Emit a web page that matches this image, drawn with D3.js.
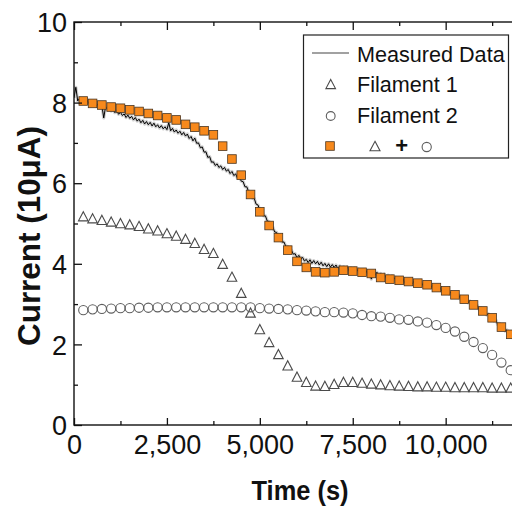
<!DOCTYPE html>
<html>
<head>
<meta charset="utf-8">
<script src="https://cdn.jsdelivr.net/npm/d3@7"></script>
<style>
  html, body { margin: 0; padding: 0; background: #fff; }
  svg { display: block; }
  text { font-family: "Liberation Sans", Arial, Helvetica, sans-serif; fill: #111; }
</style>
</head>
<body>
<script>
// Measured current trace, sampled every 50 s starting at t = 0 (units of 10 uA)
const measuredStep = 50;
const measured = [
  8.12, 8.38, 8.04, 8.11, 8.03,  8.08, 8.01, 8.06, 7.98, 8.03,
  7.95, 8.00, 7.91, 7.97, 7.88,  7.93, 7.62, 7.90, 7.83, 7.87,
  7.79, 7.84, 7.75, 7.80, 7.71,  7.76, 7.68, 7.72, 7.63, 7.69,
  7.61, 7.66, 7.57, 7.63, 7.54,  7.59, 7.50, 7.56, 7.47, 7.53,
  7.45, 7.51, 7.42, 7.49, 7.40,  7.45, 7.37, 7.43, 7.35, 7.40,
  7.33, 7.50, 7.30, 7.36, 7.27,  7.32, 7.24, 7.29, 7.20, 7.26,
  7.17, 7.22, 7.11, 7.16, 7.05,  7.12, 6.99, 7.00, 6.88, 6.90,
  6.77, 6.78, 6.64, 6.66, 6.52,  6.53, 6.44, 6.48, 6.39, 6.43,
  6.34, 6.39, 6.30, 6.34, 6.24,  6.29, 6.19, 6.23, 6.12, 6.15,
  6.05, 6.04, 5.91, 5.91, 5.78,  5.77, 5.63, 5.62, 5.48, 5.46,
  5.33, 5.32, 5.19, 5.19, 5.06,  5.05, 4.92, 4.91, 4.79, 4.78,
  4.65, 4.65, 4.54, 4.54, 4.43,  4.43, 4.33, 4.34, 4.24, 4.25,
  4.15, 4.21, 4.11, 4.16, 4.07,  4.11, 4.03, 4.10, 4.01, 4.08,
  4.00, 4.06, 3.97, 4.04, 3.95,  4.01, 3.93, 4.00, 3.92, 3.98,
  3.91, 3.97, 3.88, 3.95, 3.87,  3.93, 3.85, 3.92, 3.83, 3.90,
  3.83, 3.89, 3.80, 3.87, 3.79,  3.85, 3.77, 3.84, 3.75, 3.82,
  3.62, 3.81, 3.72, 3.79, 3.70,  3.76, 3.68, 3.74, 3.65, 3.72,
  3.64, 3.70, 3.61, 3.67, 3.58,  3.64, 3.56, 3.62, 3.53, 3.60,
  3.53, 3.59, 3.50, 3.57, 3.49,  3.55, 3.47, 3.53, 3.45, 3.51,
  3.44, 3.50, 3.41, 3.47, 3.38,  3.44, 3.35, 3.41, 3.32, 3.38,
  3.30, 3.35, 3.25, 3.31, 3.21,  3.26, 3.17, 3.23, 3.12, 3.18,
  3.09, 3.13, 3.03, 3.08, 2.98,  3.02, 2.92, 2.97, 2.86, 2.91,
  2.81, 2.84, 2.73, 2.76, 2.66,  2.69, 2.58, 2.61, 2.49, 2.52,
  2.41, 2.44, 2.33, 2.36, 2.25,  2.27, 2.17, 2.20, 2.09, 2.12,
  2.05
];

// Model times (s) for the fitted filament currents
const modelTimes = [
   250,  500,  750, 1000, 1250, 1500, 1750, 2000, 2250, 2500,
  2750, 3000, 3250, 3500, 3750, 4000, 4250, 4500, 4750, 5000,
  5250, 5500, 5750, 6000, 6250, 6500, 6750, 7000, 7250, 7500,
  7750, 8000, 8250, 8500, 8750, 9000, 9250, 9500, 9750, 10000,
  10250, 10500, 10750, 11000, 11250, 11500, 11750
];

// Filament 1 (triangles)
const filament1 = [
  5.18, 5.13, 5.09, 5.05, 5.01, 4.98, 4.94, 4.88, 4.83, 4.76,
  4.70, 4.62, 4.52, 4.37, 4.27, 4.00, 3.68, 3.28, 2.79, 2.38,
  2.06, 1.76, 1.48, 1.20, 1.07, 0.98, 0.97, 1.02, 1.07, 1.07,
  1.05, 1.03, 1.01, 0.99, 0.98, 0.97, 0.96, 0.96, 0.95, 0.95,
  0.94, 0.94, 0.94, 0.94, 0.93, 0.93, 0.93
];

// Filament 2 (circles)
const filament2 = [
  2.85, 2.87, 2.88, 2.89, 2.90, 2.90, 2.91, 2.91, 2.92, 2.92,
  2.92, 2.92, 2.92, 2.92, 2.92, 2.92, 2.92, 2.92, 2.92, 2.90,
  2.89, 2.88, 2.87, 2.85, 2.84, 2.82, 2.80, 2.80, 2.79, 2.77,
  2.73, 2.70, 2.69, 2.66, 2.62, 2.61, 2.57, 2.54, 2.48, 2.41,
  2.32, 2.19, 2.06, 1.91, 1.74, 1.55, 1.36
];

// Combined current of both filaments (squares)
const combined = [
  8.04, 7.98, 7.94, 7.89, 7.86, 7.82, 7.78, 7.73, 7.68, 7.62,
  7.57, 7.46, 7.39, 7.30, 7.20, 6.92, 6.60, 6.20, 5.72, 5.29,
  4.95, 4.65, 4.34, 4.06, 3.91, 3.80, 3.78, 3.80, 3.84, 3.82,
  3.79, 3.76, 3.66, 3.62, 3.59, 3.56, 3.52, 3.48, 3.41, 3.33,
  3.23, 3.12, 2.98, 2.83, 2.66, 2.43, 2.25
];

// Axis ticks
const xMajorTicks = [0, 2500, 5000, 7500, 10000];
const xMinorTicks = [1250, 3750, 6250, 8750, 11250];
const yMajorTicks = [0, 2, 4, 6, 8, 10];
const yMinorTicks = [1, 3, 5, 7, 9];

const legendLabels = ["Measured Data", "Filament 1", "Filament 2"];

// ---------------------------------------------------------------------------
const W = 512, H = 508;
const L = 74, R = 520, T = 22, B = 425;

const svg = d3.select("body").append("svg")
  .attr("width", W).attr("height", H);

const x = d3.scaleLinear().domain([0, 12000]).range([L, R]);
const y = d3.scaleLinear().domain([0, 10]).range([B, T]);

svg.append("defs").append("clipPath").attr("id", "plot")
  .append("rect").attr("x", L).attr("y", T).attr("width", R - L).attr("height", B - T);

const plot = svg.append("g").attr("clip-path", "url(#plot)");

// Measured trace: soft grey band under a thin black line
const line = d3.line()
  .x((d, i) => x(i * measuredStep))
  .y(d => y(d));
plot.append("path").datum(measured)
  .attr("d", line).attr("fill", "none")
  .attr("stroke", "#888").attr("stroke-width", 3.2).attr("stroke-opacity", 0.4)
  .attr("stroke-linejoin", "round");
plot.append("path").datum(measured)
  .attr("d", line).attr("fill", "none")
  .attr("stroke", "#000").attr("stroke-width", 1)
  .attr("stroke-linejoin", "round");

// Triangle centred on its bounding box
function triPath(w, h) {
  return `M0,${-h / 2}L${w / 2},${h / 2}L${-w / 2},${h / 2}Z`;
}

const triColor = "#4a4a4a", circColor = "#5e5e5e";
const sqFill = "#f7891c", sqStroke = "#4a3520";

plot.append("g").selectAll("path")
  .data(modelTimes.map((t, i) => [t, filament1[i]]))
  .join("path")
  .attr("d", triPath(9.6, 9.2))
  .attr("transform", d => `translate(${x(d[0])},${y(d[1])})`)
  .attr("fill", "none").attr("stroke", triColor).attr("stroke-width", 1.1);

plot.append("g").selectAll("circle")
  .data(modelTimes.map((t, i) => [t, filament2[i]]))
  .join("circle")
  .attr("cx", d => x(d[0])).attr("cy", d => y(d[1])).attr("r", 4.6)
  .attr("fill", "none").attr("stroke", circColor).attr("stroke-width", 1.1);

const sq = 8.6;
plot.append("g").selectAll("rect")
  .data(modelTimes.map((t, i) => [t, combined[i]]))
  .join("rect")
  .attr("x", d => x(d[0]) - sq / 2).attr("y", d => y(d[1]) - sq / 2)
  .attr("width", sq).attr("height", sq)
  .attr("fill", sqFill).attr("stroke", sqStroke).attr("stroke-width", 0.8);

// ---------------------------------------------------------------------------
// Axes: ticks point inward on all four sides
const fmt = d3.format(",");
const tickFont = "27px";

svg.append("g").attr("transform", `translate(0,${B})`)
  .call(d3.axisBottom(x).tickValues(xMajorTicks).tickFormat(fmt)
    .tickSizeInner(-7).tickSizeOuter(0).tickPadding(10));
svg.append("g").attr("transform", `translate(0,${B})`)
  .call(d3.axisBottom(x).tickValues(xMinorTicks).tickFormat("")
    .tickSizeInner(-4).tickSizeOuter(0));
svg.append("g").attr("transform", `translate(0,${T})`)
  .call(d3.axisTop(x).tickValues(xMajorTicks).tickFormat("")
    .tickSizeInner(-8).tickSizeOuter(0));
svg.append("g").attr("transform", `translate(0,${T})`)
  .call(d3.axisTop(x).tickValues(xMinorTicks).tickFormat("")
    .tickSizeInner(-4).tickSizeOuter(0));

const gy = svg.append("g").attr("transform", `translate(${L},0)`)
  .call(d3.axisLeft(y).tickValues(yMajorTicks).tickFormat(d3.format("d"))
    .tickSizeInner(-8).tickSizeOuter(0).tickPadding(7));
svg.append("g").attr("transform", `translate(${L},0)`)
  .call(d3.axisLeft(y).tickValues(yMinorTicks).tickFormat("")
    .tickSizeInner(-4).tickSizeOuter(0));
svg.append("g").attr("transform", `translate(${R},0)`)
  .call(d3.axisRight(y).tickValues(yMajorTicks).tickFormat("")
    .tickSizeInner(-8).tickSizeOuter(0));
svg.append("g").attr("transform", `translate(${R},0)`)
  .call(d3.axisRight(y).tickValues(yMinorTicks).tickFormat("")
    .tickSizeInner(-4).tickSizeOuter(0));

svg.selectAll(".domain").remove();
svg.selectAll(".tick line").attr("stroke", "#111").attr("stroke-width", 1.3);
svg.selectAll(".tick text")
  .attr("font-family", "'Liberation Sans', Arial, sans-serif")
  .attr("font-size", tickFont).attr("fill", "#111");
gy.selectAll(".tick text").attr("dy", "0.36em");

// Plot frame
svg.append("rect")
  .attr("x", L).attr("y", T).attr("width", R - L).attr("height", B - T)
  .attr("fill", "none").attr("stroke", "#111").attr("stroke-width", 1.4);

// Axis titles
svg.append("text")
  .attr("x", 300).attr("y", 500)
  .attr("text-anchor", "middle")
  .attr("font-size", "28px").attr("font-weight", "bold")
  .attr("textLength", 97).attr("lengthAdjust", "spacingAndGlyphs")
  .text("Time (s)");

svg.append("text")
  .attr("transform", "translate(40,236) rotate(-90)")
  .attr("text-anchor", "middle")
  .attr("font-size", "32px").attr("font-weight", "bold")
  .attr("textLength", 220).attr("lengthAdjust", "spacingAndGlyphs")
  .text("Current (10\u03BCA)");

// ---------------------------------------------------------------------------
// Legend
const lg = svg.append("g");
lg.append("rect")
  .attr("x", 303.5).attr("y", 35).attr("width", 205).attr("height", 123)
  .attr("fill", "#fff").attr("stroke", "#222").attr("stroke-width", 1.2);

lg.append("line")
  .attr("x1", 312).attr("x2", 349).attr("y1", 53).attr("y2", 53)
  .attr("stroke", "#444").attr("stroke-width", 1.1);

const legendBaselines = [61.7, 91.7, 122.7];
legendLabels.forEach((s, i) => {
  lg.append("text")
    .attr("x", 357).attr("y", legendBaselines[i])
    .attr("font-size", "21.6px")
    .text(s);
});

lg.append("path").attr("d", triPath(9.6, 9.2))
  .attr("transform", "translate(330.7,84)")
  .attr("fill", "none").attr("stroke", triColor).attr("stroke-width", 1.1);
lg.append("circle").attr("cx", 330.7).attr("cy", 116).attr("r", 4.4)
  .attr("fill", "none").attr("stroke", circColor).attr("stroke-width", 1.1);

// Sum row: square = triangle + circle
lg.append("rect")
  .attr("x", 330 - sq / 2).attr("y", 146 - sq / 2).attr("width", sq).attr("height", sq)
  .attr("fill", sqFill).attr("stroke", sqStroke).attr("stroke-width", 0.8);
lg.append("path").attr("d", triPath(10, 9.4))
  .attr("transform", "translate(375,146)")
  .attr("fill", "none").attr("stroke", triColor).attr("stroke-width", 1.1);
lg.append("text")
  .attr("x", 401.7).attr("y", 152.5).attr("text-anchor", "middle")
  .attr("font-size", "22px").attr("font-weight", "bold")
  .text("+");
lg.append("circle").attr("cx", 426.7).attr("cy", 147).attr("r", 4.6)
  .attr("fill", "none").attr("stroke", circColor).attr("stroke-width", 1.1);
</script>
</body>
</html>
